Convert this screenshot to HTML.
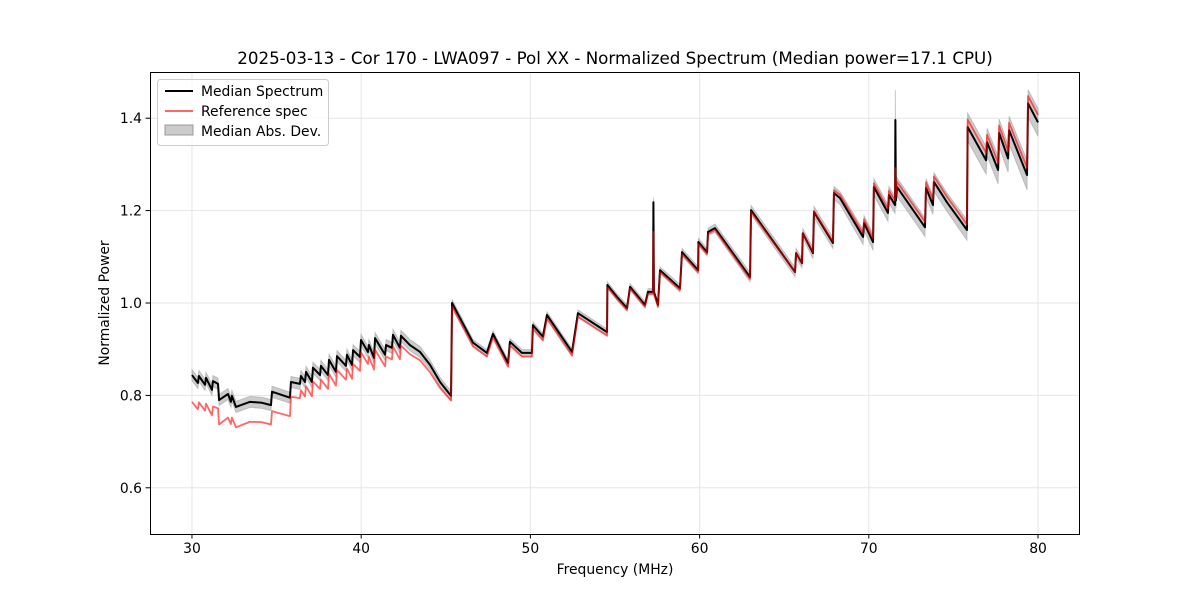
<!DOCTYPE html>
<html><head><meta charset="utf-8"><style>
body{margin:0;background:#fff;}
svg text{font-family:"DejaVu Sans","Liberation Sans",sans-serif;fill:#000;}
</style></head><body>
<svg id="chart" width="1200" height="600" xmlns="http://www.w3.org/2000/svg">
<rect width="1200" height="600" fill="#fff"/>
<text x="615" y="64" text-anchor="middle" font-size="16.7">2025-03-13 - Cor 170 - LWA097 - Pol XX - Normalized Spectrum (Median power=17.1 CPU)</text>
<g id="grid"></g>
<g id="plot"></g>
<rect x="150.5" y="72.5" width="929" height="462" fill="none" stroke="#000" stroke-width="1"/>
<g id="ticks"></g>
<text x="615" y="574" text-anchor="middle" font-size="13.9">Frequency (MHz)</text>
<text transform="translate(109,303) rotate(-90)" text-anchor="middle" font-size="13.9">Normalized Power</text>
<g>
<rect x="157.5" y="79.5" width="171" height="66" rx="3" fill="#fff" fill-opacity="0.8" stroke="#ccc"/>
<g><line x1="165" y1="91" x2="193" y2="91" stroke="#000" stroke-width="2"/><text x="201" y="96" font-size="13.9">Median Spectrum</text></g>
<g><line x1="165" y1="111" x2="193" y2="111" stroke="#ff0000" stroke-opacity="0.6" stroke-width="2"/><text x="201" y="116" font-size="13.9">Reference spec</text></g>
<g><rect x="165" y="125" width="28" height="10" fill="#999" fill-opacity="0.5" stroke="#999"/><text x="201" y="136" font-size="13.9">Median Abs. Dev.</text></g>
</g>
</svg>
<script>
const freqs=[30.00,30.35,30.41,30.77,30.83,31.18,31.24,31.54,31.60,32.13,32.30,32.36,32.60,33.43,34.14,34.67,34.73,35.79,35.85,36.38,36.44,36.68,36.74,37.09,37.15,37.57,37.62,38.04,38.10,38.51,38.57,39.10,39.16,39.46,39.52,39.93,39.99,40.40,40.46,40.76,40.82,41.41,41.47,41.82,41.88,42.29,42.35,42.88,43.48,44.07,44.66,45.31,45.37,46.61,47.43,47.79,48.68,48.79,49.50,50.09,50.15,50.74,50.98,52.46,52.81,54.53,54.55,55.12,55.71,55.89,56.77,56.95,57.25,57.27,57.30,57.54,57.66,58.84,58.96,59.91,59.93,60.44,60.50,60.91,62.98,63.04,65.64,65.70,66.05,66.10,66.70,66.76,67.88,67.94,68.30,69.66,69.72,70.25,70.30,71.13,71.19,71.55,71.57,71.60,71.67,73.32,73.38,73.79,73.85,74.62,75.80,75.84,76.93,76.99,77.64,77.70,78.23,78.29,79.35,79.41,80.00];
const median=[0.844,0.827,0.842,0.823,0.838,0.812,0.831,0.825,0.790,0.803,0.786,0.799,0.775,0.786,0.784,0.779,0.808,0.795,0.829,0.825,0.842,0.829,0.851,0.829,0.860,0.844,0.864,0.844,0.877,0.851,0.885,0.864,0.888,0.866,0.898,0.883,0.920,0.894,0.909,0.881,0.924,0.888,0.909,0.903,0.931,0.903,0.929,0.909,0.894,0.866,0.829,0.799,1.000,0.914,0.892,0.933,0.870,0.916,0.892,0.892,0.952,0.927,0.974,0.894,0.978,0.937,1.039,1.013,0.989,1.035,0.996,1.024,1.024,1.218,1.024,0.996,1.071,1.032,1.110,1.071,1.132,1.110,1.154,1.162,1.056,1.201,1.067,1.108,1.086,1.151,1.108,1.197,1.130,1.238,1.227,1.143,1.173,1.132,1.251,1.195,1.234,1.212,1.396,1.222,1.251,1.164,1.249,1.212,1.262,1.218,1.158,1.381,1.309,1.348,1.288,1.368,1.313,1.374,1.277,1.432,1.391];
const reference=[0.786,0.770,0.785,0.767,0.782,0.757,0.776,0.772,0.737,0.752,0.738,0.752,0.731,0.743,0.742,0.737,0.766,0.755,0.797,0.794,0.811,0.798,0.820,0.798,0.830,0.814,0.834,0.814,0.847,0.821,0.855,0.834,0.858,0.836,0.868,0.853,0.893,0.868,0.884,0.856,0.899,0.863,0.884,0.878,0.906,0.878,0.908,0.889,0.876,0.850,0.816,0.789,0.992,0.906,0.884,0.925,0.862,0.908,0.884,0.884,0.944,0.919,0.966,0.886,0.970,0.929,1.034,1.009,0.985,1.031,0.992,1.020,1.020,1.154,1.020,0.992,1.067,1.028,1.106,1.067,1.128,1.106,1.150,1.158,1.052,1.197,1.067,1.108,1.086,1.151,1.110,1.199,1.133,1.244,1.234,1.151,1.181,1.140,1.259,1.204,1.243,1.222,1.292,1.232,1.262,1.176,1.261,1.224,1.274,1.230,1.170,1.397,1.325,1.364,1.304,1.384,1.329,1.390,1.293,1.448,1.407];
const mad=[0.012,0.012,0.012,0.012,0.012,0.012,0.012,0.012,0.012,0.012,0.012,0.012,0.012,0.012,0.012,0.012,0.012,0.012,0.012,0.012,0.012,0.012,0.012,0.012,0.012,0.012,0.012,0.012,0.012,0.012,0.012,0.012,0.012,0.012,0.012,0.012,0.012,0.012,0.012,0.012,0.012,0.012,0.012,0.012,0.012,0.012,0.012,0.012,0.012,0.01,0.01,0.01,0.008,0.007,0.007,0.007,0.007,0.007,0.007,0.007,0.007,0.007,0.007,0.007,0.007,0.007,0.007,0.007,0.007,0.007,0.007,0.007,0.007,0.01,0.007,0.007,0.007,0.008,0.008,0.008,0.008,0.008,0.008,0.009,0.01,0.01,0.01,0.01,0.01,0.01,0.012,0.012,0.012,0.014,0.014,0.016,0.016,0.018,0.018,0.018,0.018,0.018,0.065,0.018,0.02,0.02,0.02,0.02,0.02,0.02,0.022,0.03,0.03,0.03,0.03,0.03,0.03,0.03,0.032,0.03,0.03];
const xTicks=[30,40,50,60,70,80];
const yTicks=[0.6,0.8,1.0,1.2,1.4];
const X0=27.52,X1=82.48,Y0=0.5,Y1=1.5;
function sx(f){return 150+(f-X0)/(X1-X0)*930;}
function sy(v){return 534-(v-Y0)/(Y1-Y0)*462;}
const NS="http://www.w3.org/2000/svg";
function mk(tag,attrs,parent){const e=document.createElementNS(NS,tag);for(const k in attrs)e.setAttribute(k,attrs[k]);parent.appendChild(e);return e;}
const grid=document.getElementById('grid'),ticks=document.getElementById('ticks'),plot=document.getElementById('plot');
xTicks.forEach(t=>{const x=sx(t);
 const g=mk('line',{x1:x,y1:72,x2:x,y2:534,stroke:'#e6e6e6','stroke-width':1},grid);
 
 
 const tk=mk('line',{x1:x,y1:534,x2:x,y2:538.5,stroke:'#000'},ticks);
 
 
 const l=mk('text',{x:x,y:553,'text-anchor':'middle','font-size':'13.9'},ticks);l.textContent=t;
 
 
});
yTicks.forEach(t=>{const y=sy(t);
 const g=mk('line',{x1:150,y1:y,x2:1080,y2:y,stroke:'#e6e6e6','stroke-width':1},grid);
 
 
 const tk=mk('line',{x1:145.5,y1:y,x2:150,y2:y,stroke:'#000'},ticks);
 
 
 const l=mk('text',{x:142,y:y+5,'text-anchor':'end','font-size':'13.9'},ticks);l.textContent=t.toFixed(1);
 
 
});
let up=freqs.map((f,i)=>sx(f)+','+sy(median[i]+mad[i]));
let dn=freqs.map((f,i)=>sx(f)+','+sy(median[i]-mad[i])).reverse();
const band=mk('polygon',{points:up.concat(dn).join(' '),fill:'#999','fill-opacity':0.5,stroke:'#999','stroke-opacity':0.5,'stroke-width':1},plot);


const ml=mk('polyline',{points:freqs.map((f,i)=>sx(f)+','+sy(median[i])).join(' '),fill:'none',stroke:'#000','stroke-width':2,'stroke-linejoin':'round'},plot);


const rl=mk('polyline',{points:freqs.map((f,i)=>sx(f)+','+sy(reference[i])).join(' '),fill:'none',stroke:'#ff0000','stroke-opacity':0.6,'stroke-width':1.8,'stroke-linejoin':'round'},plot);


</script>
</body></html>
